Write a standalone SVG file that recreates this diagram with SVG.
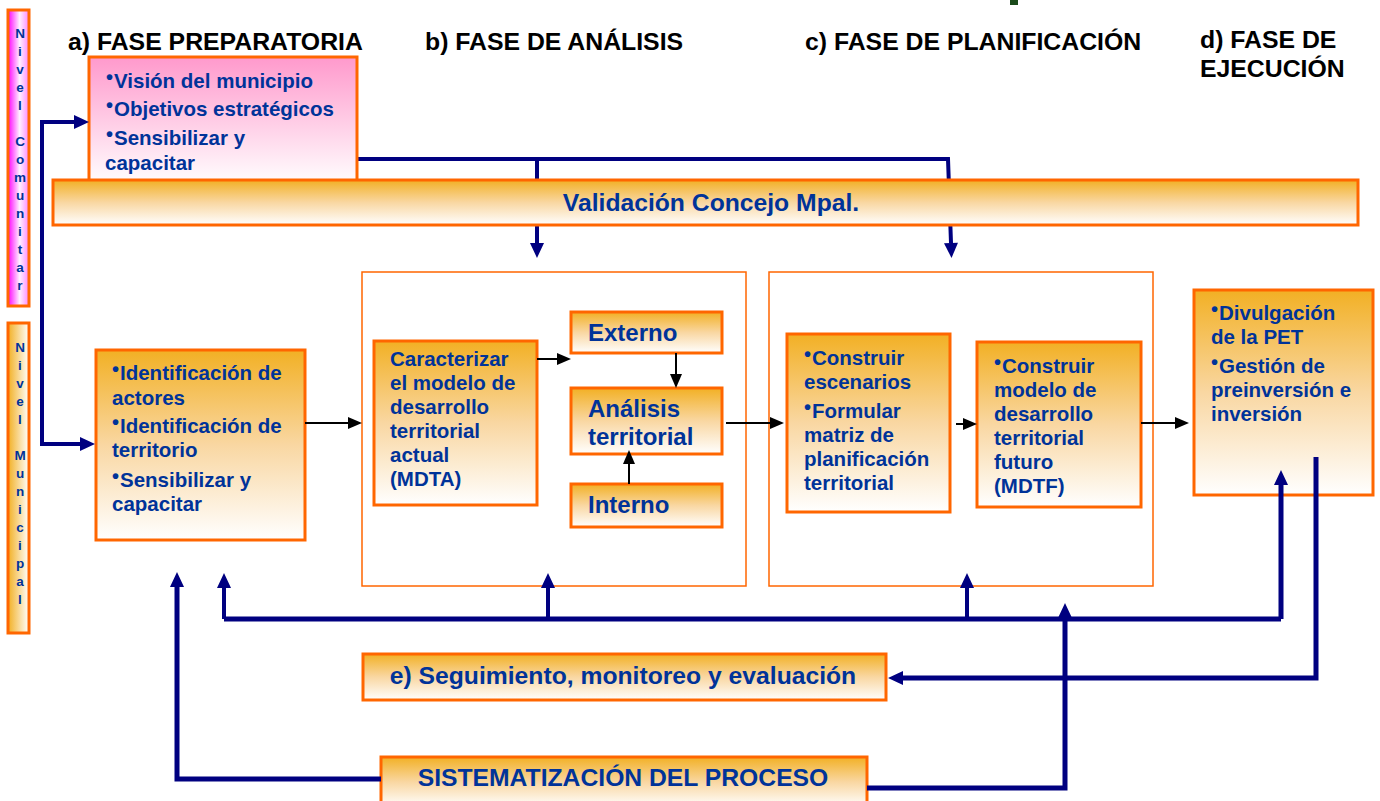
<svg xmlns="http://www.w3.org/2000/svg" width="1380" height="801" viewBox="0 0 1380 801">
<style>
text{font-family:"Liberation Sans",Arial,sans-serif;font-weight:bold}
.hdr{font-size:24.8px;fill:#000}
.t{font-size:20.5px;fill:#003399}
.tb{font-size:24px;fill:#003399}
.tl{font-size:24.7px;fill:#003399}
.lv{font-size:13.5px;fill:#003399;text-anchor:middle}
.bu{font-size:20px}
.bx{fill:url(#gO);stroke:#FF6600;stroke-width:3}
.cont{fill:#fff;stroke:#FF6600;stroke-width:1.5}
.nv{fill:none;stroke:#000080;stroke-width:4}
.nvb{fill:none;stroke:#000080;stroke-width:5}
.bk{fill:none;stroke:#000;stroke-width:2}
.na{marker-end:url(#mN)}
.ba{marker-end:url(#mB)}
</style>
<defs>
<linearGradient id="gO" x1="0" y1="0" x2="0" y2="1">
<stop offset="0" stop-color="#F2B024"/>
<stop offset="0.5" stop-color="#F9D7A2"/>
<stop offset="1" stop-color="#FFFFFF"/>
</linearGradient>
<linearGradient id="gP" x1="0" y1="0" x2="0" y2="1">
<stop offset="0" stop-color="#FF99CC"/>
<stop offset="1" stop-color="#FFFFFF"/>
</linearGradient>
<linearGradient id="gM" x1="0" y1="0" x2="1" y2="0">
<stop offset="0" stop-color="#FF00FF"/>
<stop offset="0.55" stop-color="#FFF0FF"/>
<stop offset="1" stop-color="#FF88FF"/>
</linearGradient>
<linearGradient id="gOH" x1="0" y1="0" x2="1" y2="0">
<stop offset="0" stop-color="#F2B024"/>
<stop offset="1" stop-color="#FFFFFF"/>
</linearGradient>
<marker id="mN" markerUnits="userSpaceOnUse" markerWidth="15" markerHeight="14" refX="0" refY="7" orient="auto" overflow="visible">
<path d="M0,0 L15,7 L0,14 z" fill="#000080"/>
</marker>
<marker id="mB" markerUnits="userSpaceOnUse" markerWidth="14" markerHeight="12" refX="0" refY="6" orient="auto" overflow="visible">
<path d="M0,0 L14,6 L0,12 z" fill="#000"/>
</marker>
</defs>
<rect width="1380" height="801" fill="#fff"/>
<rect x="1010" y="0" width="8" height="5" fill="#1A4A1A"/>

<g id="headers">
<text class="hdr" x="68" y="50">a) FASE PREPARATORIA</text>
<text class="hdr" x="425" y="50">b) FASE DE ANÁLISIS</text>
<text class="hdr" x="805" y="50">c) FASE DE PLANIFICACIÓN</text>
<text class="hdr" x="1200" y="48">d) FASE DE</text>
<text class="hdr" x="1200" y="77">EJECUCIÓN</text>
</g>

<g id="nivel-comunitario">
<rect x="8" y="10" width="21" height="296" fill="url(#gM)" stroke="#FF6600" stroke-width="3"/>
<text class="lv"><tspan x="20" y="38">N</tspan><tspan x="20" y="56">i</tspan><tspan x="20" y="74">v</tspan><tspan x="20" y="92">e</tspan><tspan x="20" y="110">l</tspan><tspan x="20" y="146">C</tspan><tspan x="20" y="164">o</tspan><tspan x="20" y="182">m</tspan><tspan x="20" y="200">u</tspan><tspan x="20" y="218">n</tspan><tspan x="20" y="236">i</tspan><tspan x="20" y="254">t</tspan><tspan x="20" y="272">a</tspan><tspan x="20" y="290">r</tspan></text>
</g>

<g id="nivel-municipal">
<rect x="8" y="323" width="21" height="310" fill="url(#gOH)" stroke="#FF6600" stroke-width="3"/>
<text class="lv"><tspan x="20" y="352">N</tspan><tspan x="20" y="370">i</tspan><tspan x="20" y="388">v</tspan><tspan x="20" y="406">e</tspan><tspan x="20" y="424">l</tspan><tspan x="20" y="460">M</tspan><tspan x="20" y="478">u</tspan><tspan x="20" y="496">n</tspan><tspan x="20" y="514">i</tspan><tspan x="20" y="532">c</tspan><tspan x="20" y="550">i</tspan><tspan x="20" y="568">p</tspan><tspan x="20" y="586">a</tspan><tspan x="20" y="604">l</tspan></text>
</g>

<g id="connectors-back">
<path class="nv" d="M357,159 H948 L951,243" marker-end="url(#mN)"/>
<path class="nv na" d="M537,159 V243"/>
</g>

<g id="fase-a-comunitario">
<rect x="89" y="57" width="268" height="128" fill="url(#gP)" stroke="#FF6600" stroke-width="3"/>
<text class="t"><tspan class="bu" x="106" y="84">•</tspan><tspan x="114" y="88">Visión del municipio</tspan></text>
<text class="t"><tspan class="bu" x="106" y="112">•</tspan><tspan x="114" y="116">Objetivos estratégicos</tspan></text>
<text class="t"><tspan class="bu" x="106" y="141">•</tspan><tspan x="114" y="145">Sensibilizar y</tspan></text>
<text class="t" x="105" y="170">capacitar</text>
</g>

<g id="validacion">
<rect x="53" y="180" width="1305" height="45" class="bx"/>
<text class="tl" x="711" y="211" font-size="27" text-anchor="middle">Validación Concejo Mpal.</text>
</g>

<g id="contenedor-analisis">
<rect x="362" y="272" width="384" height="314" class="cont"/>
</g>
<g id="contenedor-planificacion">
<rect x="769" y="272" width="384" height="314" class="cont"/>
</g>

<g id="fase-a-municipal">
<rect x="96" y="350" width="209" height="190" class="bx"/>
<text class="t"><tspan class="bu" x="112" y="376">•</tspan><tspan x="120" y="380">Identificación de</tspan></text>
<text class="t" x="112" y="405">actores</text>
<text class="t"><tspan class="bu" x="112" y="429">•</tspan><tspan x="120" y="433">Identificación de</tspan></text>
<text class="t" x="112" y="457">territorio</text>
<text class="t"><tspan class="bu" x="112" y="483">•</tspan><tspan x="120" y="487">Sensibilizar y</tspan></text>
<text class="t" x="112" y="511">capacitar</text>
</g>

<g id="caracterizar">
<rect x="374" y="341" width="163" height="164" class="bx"/>
<text class="t" x="390" y="366">Caracterizar</text>
<text class="t" x="390" y="390">el modelo de</text>
<text class="t" x="390" y="414">desarrollo</text>
<text class="t" x="390" y="438">territorial</text>
<text class="t" x="390" y="462">actual</text>
<text class="t" x="390" y="486">(MDTA)</text>
</g>

<g id="externo">
<rect x="571" y="312" width="151" height="41" class="bx"/>
<text class="tb" x="588" y="341">Externo</text>
</g>
<g id="analisis-territorial">
<rect x="571" y="388" width="151" height="66" class="bx"/>
<text class="tb" x="588" y="417">Análisis</text>
<text class="tb" x="588" y="445">territorial</text>
</g>
<g id="interno">
<rect x="571" y="484" width="151" height="43" class="bx"/>
<text class="tb" x="588" y="513">Interno</text>
</g>

<g id="escenarios">
<rect x="787" y="334" width="163" height="178" class="bx"/>
<text class="t"><tspan class="bu" x="804" y="361">•</tspan><tspan x="812" y="365">Construir</tspan></text>
<text class="t" x="804" y="389">escenarios</text>
<text class="t"><tspan class="bu" x="804" y="414">•</tspan><tspan x="812" y="418">Formular</tspan></text>
<text class="t" x="804" y="442">matriz de</text>
<text class="t" x="804" y="466">planificación</text>
<text class="t" x="804" y="490">territorial</text>
</g>

<g id="modelo-futuro">
<rect x="977" y="342" width="164" height="165" class="bx"/>
<text class="t"><tspan class="bu" x="994" y="369">•</tspan><tspan x="1002" y="373">Construir</tspan></text>
<text class="t" x="994" y="397">modelo de</text>
<text class="t" x="994" y="421">desarrollo</text>
<text class="t" x="994" y="445">territorial</text>
<text class="t" x="994" y="469">futuro</text>
<text class="t" x="994" y="493">(MDTF)</text>
</g>

<g id="ejecucion">
<rect x="1194" y="290" width="179" height="205" class="bx"/>
<text class="t"><tspan class="bu" x="1211" y="316">•</tspan><tspan x="1219" y="320">Divulgación</tspan></text>
<text class="t" x="1211" y="344">de la PET</text>
<text class="t"><tspan class="bu" x="1211" y="369">•</tspan><tspan x="1219" y="373">Gestión de</tspan></text>
<text class="t" x="1211" y="397">preinversión e</text>
<text class="t" x="1211" y="421">inversión</text>
</g>

<g id="seguimiento">
<rect x="363" y="654" width="523" height="46" class="bx"/>
<text class="tl" x="623" y="684" text-anchor="middle">e) Seguimiento, monitoreo y evaluación</text>
</g>

<g id="sistematizacion">
<rect x="381" y="757" width="486" height="50" class="bx"/>
<text class="tl" x="623" y="786" text-anchor="middle">SISTEMATIZACIÓN DEL PROCESO</text>
</g>

<g id="connectors">
<path class="nv" d="M42,283 V122 H74" marker-end="url(#mN)"/>
<path class="nv" d="M42,283 V444 H80" marker-end="url(#mN)"/>
<path class="nvb" d="M224,619 H1281"/>
<path class="nv na" d="M224,619 V588"/>
<path class="nv na" d="M548,619 V588"/>
<path class="nv na" d="M967,619 V588"/>
<path class="nvb na" d="M1281,619 V485"/>
<path class="nvb na" d="M1316,457 V678 H903"/>
<path class="nvb na" d="M381,779 H177 V587"/>
<path class="nvb na" d="M867,788 H1065 V618"/>
<path class="bk ba" d="M305,423 H348"/>
<path class="bk ba" d="M537,359 H557"/>
<path class="bk ba" d="M676,353 V374"/>
<path class="bk ba" d="M629,484 V464"/>
<path class="bk ba" d="M726,423 H770"/>
<path class="bk ba" d="M956,424 H963"/>
<path class="bk ba" d="M1141,423 H1175"/>
</g>
</svg>
